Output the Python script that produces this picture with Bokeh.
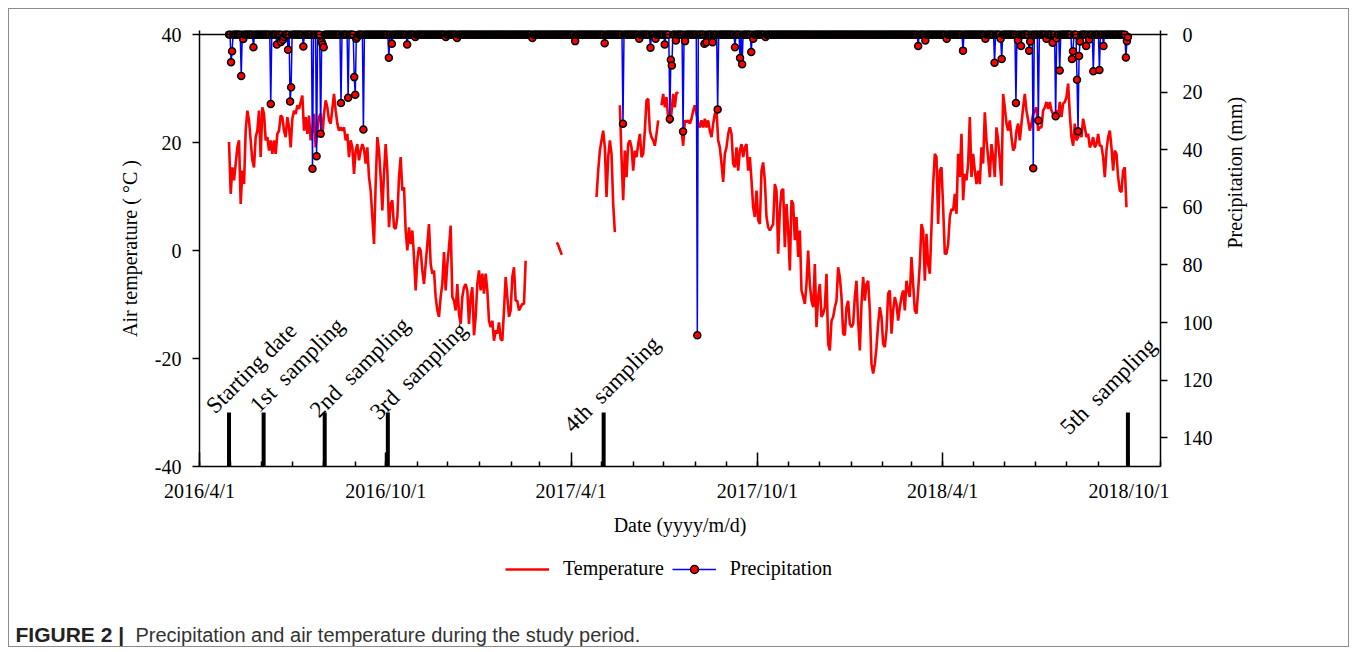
import math
from datetime import date, datetime

import numpy as np
from bokeh.plotting import figure
from bokeh.layouts import column
from bokeh.models import (Range1d, LinearAxis, FixedTicker, Legend, LegendItem,
                          ColumnDataSource, Span)
from bokeh.core.properties import value
from bokeh.embed import file_html
from bokeh.resources import INLINE

# ------------------------------------------------------------------ data
X_START = "2016-04-01"
X_END = "2018-11-01"
X_MAJOR_LABELS = ["2016/4/1", "2016/10/1", "2017/4/1", "2017/10/1", "2018/4/1", "2018/10/1"]
Y_TEMP_TICKS = [-40, -20, 0, 20, 40]
Y_PRECIP_TICKS = [0, 20, 40, 60, 80, 100, 120, 140]

# daily air temperature, every ~1.64 days (None = no data)
TEMP_STEP_DAYS = 1.637
TEMP_A_START = "2016-04-30"
TEMP_A = [
    20.1, 10.5, 15.4, 13.0, 16.1, 19.1, 20.4, 8.6, 14.8, 12.3,
    22.2, 25.9, 24.1, 20.4, 16.7, 15.4, 21.0, 22.2, 25.9, 17.3,
    26.5, 25.3, 20.4, 21.0, 18.5, 20.4, 17.9, 20.4, 17.9, 21.6,
    22.2, 25.0, 24.7, 22.2, 21.0, 24.7, 22.8, 19.1, 24.4, 25.9,
    25.3, 26.9, 26.2, 27.5, 28.7, 22.2, 24.7, 21.6, 25.0, 20.4,
    22.2, 25.3, 19.1, 22.2, 24.7, 25.3, 21.0, 25.3, 27.8, 26.5,
    24.1, 23.5, 26.2, 29.0, 25.9, 23.5, 22.2, 22.8, 22.2, 22.8,
    20.4, 21.6, 17.3, 20.4, 19.1, 14.2, 18.5, 19.7, 16.7, 18.5,
    19.7, 18.8, 16.1, 19.1, 13.6, 11.1, 6.2, 1.2, 12.3, 21.0,
    18.5, 13.6, 7.4, 14.2, 19.7, 14.8, 4.3, 8.6,
    9.3, 4.3, 4.0, 6.2, 13.6, 17.3, 11.1, 11.7, 3.7, 0.0,
    4.3, 1.2, 3.7, -1.2, -7.4, -1.9, 0.6, 0.0, -3.7, -6.2,
    -2.5, 1.2, 4.9, -2.5, -4.3, -3.7, -8.6, -11.1, -12.3, -8.6,
    -6.2, -0.3, -7.4, -2.5, 0.6, 4.6, -8.6, -9.3, -11.1, -6.2,
    -11.7, -13.6, -8.6, -6.8, -6.2, -7.4, -13.6, -8.6, -6.8, -15.7,
    -12.3, -6.2, -3.7, -7.4, -4.3, -8.0, -4.3, -7.4, -13.0, -14.2,
    -13.0, -16.7, -14.8, -15.4, -13.3, -16.4, -16.7, -11.1, -4.9, -8.6,
    -12.3, -11.1, -4.9, -3.1, -9.3, -9.3, -11.1, -10.5, -9.9, -9.9,
    -1.9,
]
TEMP_B_START = "2017-03-18"
TEMP_B = [1.5, 0.9, 0.0, -0.8]
TEMP_C_START = "2017-04-26"
TEMP_C = [
    9.9, 14.8, 18.5, 20.4, 22.2, 19.1, 9.9, 17.3, 20.4, 17.9,
    8.6, 3.4, None, None, 26.9, 17.3, 9.3, 18.5, 13.6, 19.7,
    20.4, 19.1, 14.8, 18.5, 17.3, 19.7, 21.6, 17.3, 17.9, 22.2,
    27.8, 28.1, 22.2, 21.0, 20.4, 19.4, 21.6, 24.1, None, 26.9,
    29.0, 26.5, 28.4, 24.4, 23.5, 25.6, 29.0, 26.5, 29.3, 29.0,
    None, 22.2, 19.4, 24.1, 23.8, 24.1, 23.5, 24.4, 25.9, 26.9,
    25.3, 23.5, 22.8, 24.1, 22.8, 24.4, 22.8, 24.1, 22.2, 21.0,
    23.5, 25.3, 25.9, 20.4, 19.1, 16.1, 12.7, 17.9, 19.1, 21.6,
    22.8, 21.6, 16.1, 15.4, 19.1, 14.8, 18.5, 19.7, 17.3, 19.1,
    19.7, 14.8, 17.3, 13.0, 8.0, 6.2, 11.1, 5.6, 4.9, 14.8,
    16.3, 13.0, 6.2, 4.3, 3.7,
    4.3, 4.9, 12.3, 11.1, -0.6, 7.4, 11.1, 11.4, 0.6, 8.6,
    3.7, -3.7, 9.3, 8.6, 1.9, 6.2, -1.2, 3.7, -7.4, -8.6,
    -9.9, -6.2, 0.0, -6.2, -9.3, -10.5, -2.5, -14.2, -8.6, -6.2,
    -12.3, -11.7, -10.5, -4.3, -17.3, -18.5, -13.0, -12.3, -10.5, -9.3,
    -3.1, -4.9, -8.6, -15.4, -15.7, -10.5, -9.3, -13.6, -14.2, -13.6,
    -8.6, -5.6, -13.0, -18.5, -9.9, -4.9, -9.3, -6.2, -5.6, -11.1,
    -21.0, -22.8, -21.0, -17.9, -13.6, -10.5, -12.3, -17.3, -17.9, -14.8,
    -8.0, -7.4, -15.4, -11.1, -8.6, -9.9, -13.0, -10.5, -8.6, -7.4,
    -11.1, -5.6, -7.4, -8.6, -1.2, -6.2, -11.1, -11.7, -7.4, -2.5,
    4.9, 3.7, -5.6, 3.1, -2.5, -4.3, 4.3, 12.3, 17.9, 17.3,
    4.9, 14.8, 15.4, 8.0, -0.6,
    -0.6, 1.2, 6.2, 7.7, 7.4, 10.5, 6.8, 17.9, 13.6, 21.6,
    9.3, 14.2, 13.0, 16.1, 24.7, 13.6, 17.9, 14.8, 12.3, 14.8,
    12.3, 19.1, 16.1, 25.6, 20.4, 17.3, 13.6, 19.7, 17.3, 13.6,
    22.8, 20.4, 16.7, 12.0, 29.0, 26.5, 23.5, 22.2, 24.1, 21.0,
    18.5, 19.1, 22.2, 23.5, 20.4, 23.5, 26.5, 29.0, 25.9, 24.1,
    22.2, 23.5, 25.3, 25.9, 26.5, 22.2, 22.8, 22.8, 25.9, 26.5,
    27.5, 26.2, 27.5, 25.9, 25.3, 25.3, 25.9, 24.7, 27.5, 24.7,
    27.2, 27.5, 28.4, 30.9, 25.3, 21.0, 19.4, 23.5, 20.4, 21.0,
    22.2, 21.0, 24.4, 22.8, 21.0, 21.6, 19.1, 19.7, 21.0, 19.1,
    19.7, 21.6, 19.4, 19.4, 17.3, 13.6, 18.5, 21.0, 22.2, 19.1,
    14.8, 18.5, 17.9, 13.6, 11.1, 10.8, 14.8, 15.4, 8.0,
]

# daily precipitation record (0 mm on every day not listed)
PRECIP_START = "2016-04-30"
PRECIP_END = "2018-09-30"
RAIN_DATES = [
    "2016-05-02", "2016-05-03", "2016-05-12", "2016-05-14", "2016-05-24",
    "2016-06-10", "2016-06-16", "2016-06-20", "2016-06-22", "2016-06-23",
    "2016-06-27", "2016-06-29", "2016-06-30", "2016-07-12", "2016-07-21",
    "2016-07-25", "2016-07-29", "2016-07-30", "2016-07-31", "2016-08-01",
    "2016-08-18", "2016-08-25", "2016-08-31", "2016-09-01", "2016-09-02",
    "2016-09-03", "2016-09-09", "2016-10-04", "2016-10-07", "2016-10-22",
    "2016-10-30", "2016-11-29", "2016-12-10", "2017-02-22", "2017-04-05",
    "2017-05-04", "2017-05-22", "2017-06-07", "2017-06-18", "2017-06-23",
    "2017-07-02", "2017-07-07", "2017-07-08", "2017-07-09", "2017-07-13",
    "2017-07-20", "2017-07-22", "2017-08-03", "2017-08-10", "2017-08-12",
    "2017-08-18", "2017-08-23", "2017-09-09", "2017-09-14", "2017-09-16",
    "2017-09-25", "2017-09-27", "2017-10-09", "2018-03-08", "2018-03-15",
    "2018-04-05", "2018-04-21", "2018-05-13", "2018-05-22", "2018-05-28",
    "2018-05-29", "2018-06-12", "2018-06-14", "2018-06-17", "2018-06-25",
    "2018-06-26", "2018-06-29", "2018-07-04", "2018-07-12", "2018-07-18",
    "2018-07-21", "2018-07-22", "2018-07-25", "2018-08-06", "2018-08-07",
    "2018-08-11", "2018-08-12", "2018-08-13", "2018-08-14", "2018-08-20",
    "2018-08-23", "2018-08-27", "2018-09-02", "2018-09-06", "2018-09-28",
    "2018-09-29", "2018-09-30",
]
RAIN_MM = [
    9.6, 5.8, 14.4, 1.6, 4.4,
    24.1, 3.5, 2.6, 1.8, 0.9,
    5.3, 23.3, 18.3, 4.2, 46.6,
    42.3, 34.5, 2.6, 3.5, 4.4,
    23.8, 22.0, 14.8, 20.9, 1.5,
    0.9, 33.0, 8.1, 3.2, 3.5,
    0.9, 0.9, 1.2, 1.2, 2.3,
    3.0, 31.0, 1.5, 4.6, 1.5,
    3.5, 29.3, 8.8, 10.8, 2.1,
    33.7, 2.3, 104.4, 3.2, 2.7,
    2.7, 26.0, 4.4, 8.2, 10.3,
    6.1, 1.5, 0.9, 4.0, 2.1,
    1.5, 5.6, 1.5, 9.8, 1.5,
    8.5, 23.8, 2.0, 4.0, 5.6,
    2.4, 46.4, 29.9, 1.5, 2.9,
    28.4, 1.3, 12.5, 8.5, 5.8,
    15.7, 33.6, 7.5, 2.4, 4.0,
    1.7, 12.8, 12.3, 4.0, 8.0,
    2.3, 0.9,
]

SAMPLING_LABELS = ["Starting date", "1st\u00a0 sampling", "2nd\u00a0 sampling",
                   "3rd\u00a0 sampling", "4th\u00a0 sampling", "5th\u00a0 sampling"]
SAMPLING_DATES = ["2016-04-30", "2016-06-03", "2016-08-02",
                  "2016-10-03", "2017-05-03", "2018-09-30"]

LEGEND_LABELS = ["Temperature", "Precipitation"]
CAPTION_BOLD = "FIGURE 2 |"
CAPTION_TEXT = "Precipitation and air temperature during the study period."

# ------------------------------------------------------------------ helpers
def to_date(s):
    fmt = "%Y-%m-%d" if "-" in s else "%Y/%m/%d"
    return datetime.strptime(s, fmt).date()

ORIGIN = to_date(X_START)

def dnum(s):
    return float((to_date(s) - ORIGIN).days)

def segment(start, vals):
    y = np.array(vals, dtype=float)
    x = dnum(start) + TEMP_STEP_DAYS * np.arange(len(y))
    return x, y

xa, ya = segment(TEMP_A_START, TEMP_A)
xb, yb = segment(TEMP_B_START, TEMP_B)
xc, yc = segment(TEMP_C_START, TEMP_C)
nan = np.array([np.nan])
temp_x = np.concatenate([xa, nan, xb, nan, xc])
temp_y = np.concatenate([ya, nan, yb, nan, yc])

p_days = np.arange(dnum(PRECIP_START), dnum(PRECIP_END) + 1)
p_mm = np.zeros_like(p_days)
for d, v in zip(RAIN_DATES, RAIN_MM):
    p_mm[int(dnum(d) - p_days[0])] = v

major_ticks = [dnum(s) for s in X_MAJOR_LABELS]
minor_ticks = []
yy, mm = ORIGIN.year, ORIGIN.month
end = to_date(X_END)
while date(yy, mm, 1) <= end:
    minor_ticks.append(float((date(yy, mm, 1) - ORIGIN).days))
    mm += 1
    if mm > 12:
        mm, yy = 1, yy + 1

# ------------------------------------------------------------------ styles
SERIF = "Liberation Serif"
SANS = "Liberation Sans"
FS = "20px"
RED, BLUE = "#ff0000", "#0000ff"
TEMP_STYLE = dict(line_color=RED, line_width=2.6)
PREC_LINE_STYLE = dict(line_color=BLUE, line_width=1.5)
PREC_MARK_STYLE = dict(size=7, marker="circle", fill_color=RED,
                       line_color="black", line_width=1.5)

FRAME_W, FRAME_H = 961, 436
TOP_PAD = 4  # pixels of frame kept above the 40 degC / 0 mm line
T_PER_PX = 80.0 / 432.0
P_PER_PX = 150.0 / 432.0
MAIN_H = 21 + FRAME_H + 80
STRIP_H = 100
FIG_W = 1339

def no_frame_align(fig):
    if "frame_align" in fig.properties():
        fig.frame_align = False

# ------------------------------------------------------------------ main figure
p = figure(width=FIG_W, height=MAIN_H, frame_width=FRAME_W, frame_height=FRAME_H,
           x_range=Range1d(0, dnum(X_END)),
           y_range=Range1d(-40, 40 + TOP_PAD * T_PER_PX),
           output_backend="svg", toolbar_location=None,
           min_border_left=190, min_border_right=188,
           min_border_top=21, min_border_bottom=80)
no_frame_align(p)
p.xgrid.visible = False
p.ygrid.visible = False
p.outline_line_color = None
p.background_fill_color = "white"
p.border_fill_color = "white"

p.extra_y_ranges = {"precip": Range1d(150, -TOP_PAD * P_PER_PX)}

def style_axis(ax):
    ax.axis_line_color = "black"
    ax.axis_line_width = 1.5
    ax.major_tick_line_color = "black"
    ax.major_tick_line_width = 1.5
    ax.minor_tick_line_color = "black"
    ax.minor_tick_line_width = 1.5
    ax.major_label_text_font = SERIF
    ax.major_label_text_font_size = FS
    ax.major_label_text_color = "black"
    ax.axis_label_text_font = SERIF
    ax.axis_label_text_font_size = FS
    ax.axis_label_text_font_style = "normal"
    ax.axis_label_text_color = "black"

xax = p.xaxis[0]
style_axis(xax)
xax.ticker = FixedTicker(ticks=major_ticks, minor_ticks=minor_ticks)
xax.major_label_overrides = {int(t): s for t, s in zip(major_ticks, X_MAJOR_LABELS)}
xax.major_tick_in = 14
xax.major_tick_out = 0
xax.minor_tick_in = 5
xax.minor_tick_out = 0
xax.major_label_standoff = 13
xax.axis_label = "Date (yyyy/m/d)"
xax.axis_label_standoff = 9

yax = p.yaxis[0]
style_axis(yax)
yax.ticker = FixedTicker(ticks=Y_TEMP_TICKS)
yax.major_label_overrides = {t: str(t) for t in Y_TEMP_TICKS}
yax.major_tick_in = 0
yax.major_tick_out = 7
yax.minor_tick_line_color = None
yax.major_label_standoff = 11
yax.axis_label = "Air temperature ( °C )"
yax.axis_label_standoff = 11

rax = LinearAxis(y_range_name="precip", ticker=FixedTicker(ticks=Y_PRECIP_TICKS))
style_axis(rax)
rax.major_label_overrides = {t: str(t) for t in Y_PRECIP_TICKS}
rax.major_tick_in = 0
rax.major_tick_out = 7
rax.minor_tick_line_color = None
rax.major_label_standoff = 15
rax.axis_label = "Precipitation (mm)"
rax.axis_label_standoff = 19
if "axis_label_orientation" in rax.properties():
    rax.axis_label_orientation = math.pi / 2
p.add_layout(rax, "right")

# top border of the plotting box (at 40 degC / 0 mm)
p.add_layout(Span(location=40, dimension="width", line_color="black", line_width=1.5))

p.line(temp_x, temp_y, **TEMP_STYLE)
p.line(p_days, p_mm, y_range_name="precip", **PREC_LINE_STYLE)
p.scatter(p_days, p_mm, y_range_name="precip", **PREC_MARK_STYLE)

samp_x = [dnum(s) for s in SAMPLING_DATES]
lab_src = ColumnDataSource(dict(
    x=samp_x, y=[-30] * len(samp_x), text=SAMPLING_LABELS,
    dx=[-19, -10, -11, -14, -36, -64], dy=[-3, -4, 1, 3, 16, 18]))
p.text(x="x", y="y", text="text", source=lab_src, x_offset="dx", y_offset="dy",
       angle=math.pi / 4, text_font=value(SERIF), text_font_size="23px",
       text_color="black", text_align="left", text_baseline="alphabetic")
p.segment(x0=samp_x, y0=[-40] * len(samp_x), x1=samp_x, y1=[-30] * len(samp_x),
          line_color="black", line_width=4)

# ------------------------------------------------------------------ legend + caption strip
cap = figure(width=FIG_W, height=STRIP_H, x_range=Range1d(0, FIG_W), y_range=Range1d(0, STRIP_H),
             x_axis_type=None, y_axis_type=None, output_backend="svg",
             toolbar_location=None, min_border=0)
no_frame_align(cap)
cap.xgrid.visible = False
cap.ygrid.visible = False
cap.outline_line_color = None
cap.background_fill_color = "white"
cap.border_fill_color = "white"

# legend keys: renderers styled like the series, holding points left of the view
HIDDEN = [-50.0, -40.0]
key_t = cap.line(x=HIDDEN, y=HIDDEN, **TEMP_STYLE)
key_pl = cap.line(x=HIDDEN, y=HIDDEN, **PREC_LINE_STYLE)
key_pm = cap.scatter(x=HIDDEN, y=HIDDEN, **PREC_MARK_STYLE)
legend = Legend(items=[LegendItem(label=LEGEND_LABELS[0], renderers=[key_t]),
                       LegendItem(label=LEGEND_LABELS[1], renderers=[key_pl, key_pm])],
                orientation="horizontal", location=(496, STRIP_H - 34),
                border_line_color=None, background_fill_alpha=0,
                label_text_font=SERIF, label_text_font_size=FS,
                label_text_color="black",
                glyph_width=44, glyph_height=20, label_height=20,
                label_standoff=14, spacing=8, padding=0, margin=0)
cap.add_layout(legend)

cap.text(x=[6], y=[12], text=[CAPTION_BOLD], text_font=value(SANS), text_font_style="bold",
         text_font_size="21px", text_color="#222222", text_baseline="alphabetic")
cap.text(x=[126], y=[12], text=[CAPTION_TEXT], text_font=value(SANS),
         text_font_size="20px", text_color="#333333", text_baseline="alphabetic")

layout = column(p, cap, spacing=0)
layout.styles = {"border": "1px solid #8c8c8c", "margin-left": "8px",
                 "margin-top": "8px", "box-sizing": "content-box"}

open("out.html", "w").write(file_html(layout, INLINE))
